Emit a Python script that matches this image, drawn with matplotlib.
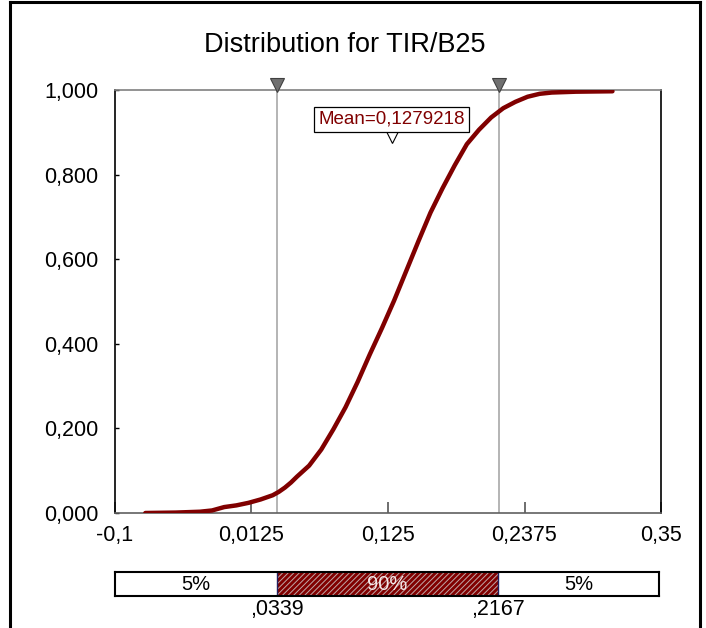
import matplotlib
matplotlib.use("Agg")
import matplotlib.pyplot as plt
from matplotlib.lines import Line2D

plt.rcParams['font.family'] = ['Liberation Sans', 'DejaVu Sans']
plt.rcParams['hatch.linewidth'] = 0.7

# values
cdf_x = [-0.075, -0.05, -0.03, -0.02, -0.01, 0.0, 0.01, 0.02, 0.03, 0.035,
         0.04, 0.045, 0.05, 0.06, 0.07, 0.08, 0.09, 0.10, 0.11, 0.12,
         0.13, 0.14, 0.15, 0.16, 0.17, 0.18, 0.19, 0.20, 0.21, 0.22,
         0.23, 0.24, 0.25, 0.26, 0.28, 0.31]
cdf_y = [0.000, 0.001, 0.003, 0.006, 0.014, 0.018, 0.024, 0.032, 0.042, 0.050,
         0.060, 0.072, 0.086, 0.112, 0.150, 0.198, 0.250, 0.310, 0.375, 0.437,
         0.502, 0.572, 0.642, 0.710, 0.768, 0.822, 0.872, 0.906, 0.935, 0.957,
         0.972, 0.984, 0.991, 0.994, 0.996, 0.997]

x_ticks = [-0.1, 0.0125, 0.125, 0.2375, 0.35]
x_labels = ["-0,1", "0,0125", "0,125", "0,2375", "0,35"]
y_ticks = [0.0, 0.2, 0.4, 0.6, 0.8, 1.0]
y_labels = ["0,000", "0,200", "0,400", "0,600", "0,800", "1,000"]

p_low, p_high = 0.0339, 0.2167
low_label, high_label = ",0339", ",2167"
mean_val = 0.1279218
mean_label = "Mean=0,1279218"
seg_labels = ["5%", "90%", "5%"]

red = '#800000'

fig = plt.figure(figsize=(7.06, 6.28), dpi=100)

ax = fig.add_axes([115 / 706, 115 / 628, 546 / 706, 423 / 628])
ax.set_xlim(-0.1, 0.35)
ax.set_ylim(0, 1)

ax.axvline(p_low, color='#a8a8a8', lw=1.2, zorder=1)
ax.axvline(p_high, color='#a8a8a8', lw=1.2, zorder=1)
ax.plot(cdf_x, cdf_y, color=red, lw=3.2, solid_capstyle='round',
        solid_joinstyle='round', zorder=3)

# percentile markers on top edge
ax.plot([p_low, p_high], [1.012, 1.012], marker='v', ls='none', ms=10,
        mfc='#707070', mec='#404040', mew=0.8, clip_on=False, zorder=5)

# mean marker and label
ax.plot([mean_val], [0.89], marker='v', ls='none', ms=8, mfc='white',
        mec='black', mew=0.8, zorder=4)
ax.text(mean_val, 0.931, mean_label, ha='center', va='center', fontsize=13.5,
        color=red,
        bbox=dict(boxstyle='square,pad=0.22', fc='white', ec='black', lw=0.9),
        zorder=6)

ax.set_xticks(x_ticks)
ax.set_xticklabels(x_labels, fontsize=15.5)
ax.set_yticks(y_ticks)
ax.set_yticklabels(y_labels, fontsize=15.5)
ax.tick_params(axis='x', direction='in', length=8, width=1.2, color='#555555', pad=9)
ax.tick_params(axis='y', direction='in', length=3, width=1, color='black', pad=12)

ax.spines['left'].set_color('black')
ax.spines['right'].set_color('black')
ax.spines['top'].set_color('#808080')
ax.spines['bottom'].set_color('#606060')
for s in ax.spines.values():
    s.set_linewidth(1.2)

fig.text(345 / 706, 1 - 45 / 628, "Distribution for TIR/B25", ha='center',
         va='center', fontsize=19.5)

# percentile bar
bx = fig.add_axes([115 / 706, 32 / 628, 544 / 706, 24 / 628])
bx.set_xlim(-0.1, 0.35)
bx.set_ylim(0, 1)
bx.barh(0.5, p_low + 0.1, left=-0.1, height=1, color='white')
bx.barh(0.5, p_high - p_low, left=p_low, height=1, color=red)
bx.barh(0.5, p_high - p_low, left=p_low, height=1, fill=False,
        edgecolor='#c0a8a8', hatch='//////', lw=0)
bx.barh(0.5, 0.35 - p_high, left=p_high, height=1, color='white')
bx.axvline(p_low, color='#202060', lw=1)
bx.axvline(p_high, color='#202060', lw=1)
bx.text((-0.1 + p_low) / 2, 0.5, seg_labels[0], ha='center', va='center', fontsize=14.5)
bx.text((p_low + p_high) / 2, 0.5, seg_labels[1], ha='center', va='center',
        fontsize=14.5, color='#f4e8e8')
bx.text((p_high + 0.35) / 2, 0.5, seg_labels[2], ha='center', va='center', fontsize=14.5)
bx.text(p_low, -0.55, low_label, ha='center', va='center', fontsize=15.5)
bx.text(p_high, -0.55, high_label, ha='center', va='center', fontsize=15.5)
bx.set_xticks([])
bx.set_yticks([])
for s in bx.spines.values():
    s.set_color('black')
    s.set_linewidth(1.5)

# outer frame of the figure
for xs, ys in [([10, 10], [0, 626]), ([10, 700], [626, 626]), ([700, 700], [626, 0])]:
    fig.add_artist(Line2D([v / 706 for v in xs], [v / 628 for v in ys],
                          color='black', lw=2.2))

fig.savefig("out.png", dpi=100)
